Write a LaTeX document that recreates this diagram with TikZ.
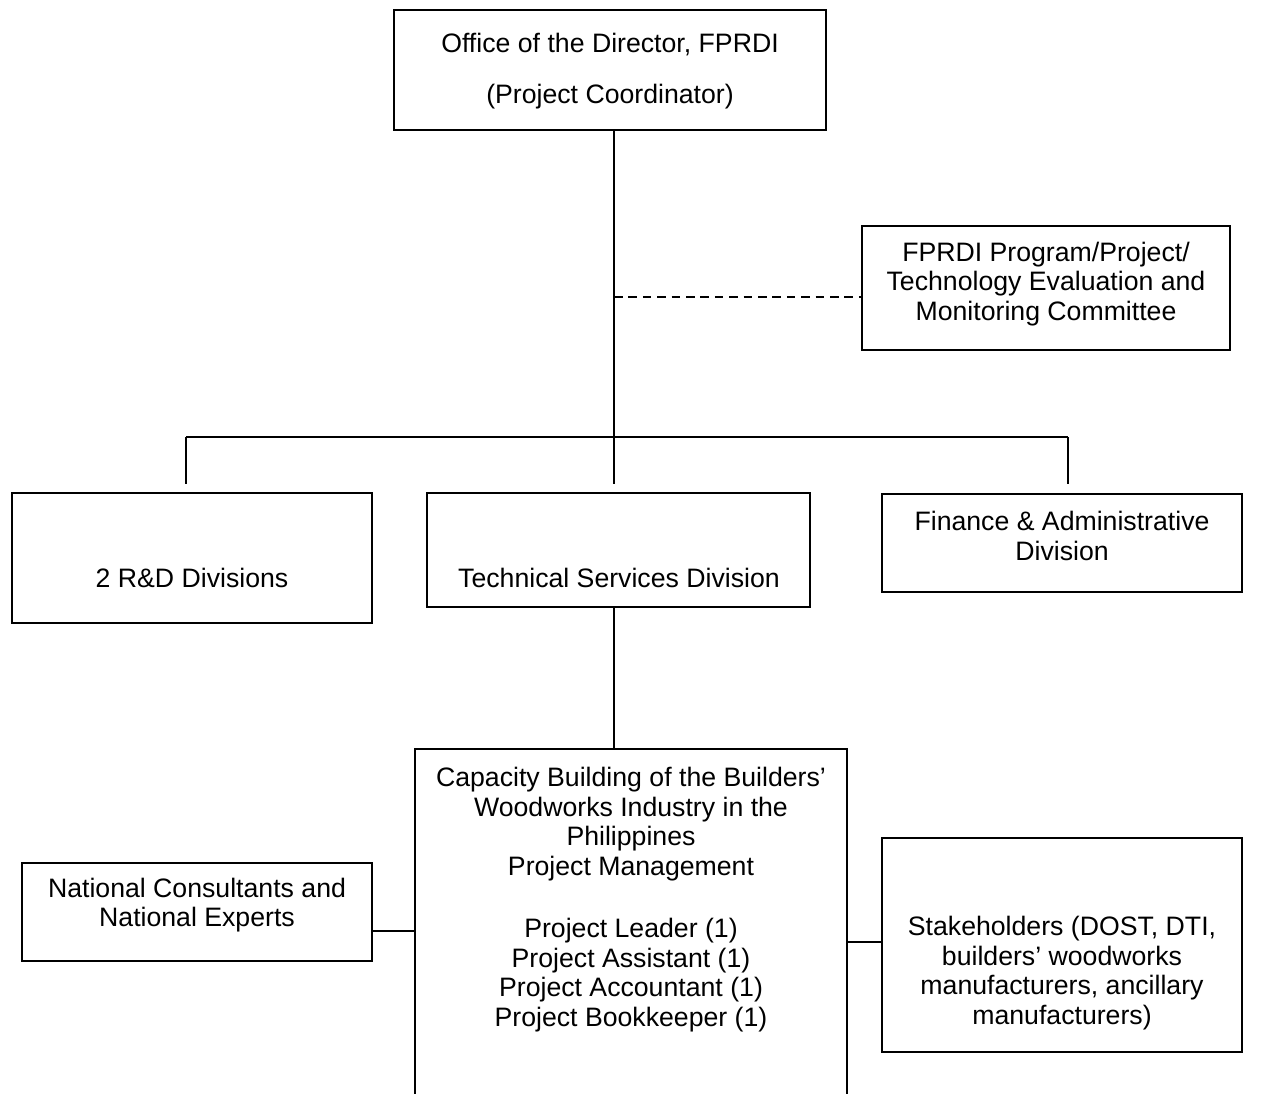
\documentclass[tikz,border=0pt]{standalone}
\usepackage{fontspec}
\setmainfont{Liberation Sans}
\begin{document}
\begin{tikzpicture}[x=0.75pt,y=-0.75pt,
  box/.style={draw,line width=1.4pt,inner sep=0pt,fill=none},
  txt/.style={align=center,inner sep=0pt,font=\fontsize{20}{22.3}\selectfont},
  conn/.style={line width=1.4pt},
  dconn/.style={line width=1.4pt,dash pattern=on 6.5pt off 4.3pt}]
\clip (0,0) rectangle (1280,1093);
\fill[white] (0,0) rectangle (1280,1093);
% boxes
\node[box,minimum width=324pt,minimum height=90pt] (top) at (610,70) {};
\node[box,minimum width=276pt,minimum height=93pt] (comm) at (1046,288) {};
\node[box,minimum width=270pt,minimum height=97.5pt] (rd) at (192,558) {};
\node[box,minimum width=287.25pt,minimum height=85.5pt] (tech) at (618.5,550) {};
\node[box,minimum width=270pt,minimum height=73.5pt] (fin) at (1062,543) {};
\node[box,minimum width=324pt,minimum height=270.75pt] (cap) at (631,929.5) {};
\node[box,minimum width=262.5pt,minimum height=73.5pt] (nc) at (197,912) {};
\node[box,minimum width=270pt,minimum height=160.5pt] (sh) at (1062,945) {};
% texts
\node[txt] (toptxt) at (610,71) {Office of the Director, FPRDI\\[16.5pt](Project Coordinator)};
\node[txt] (commtxt) at (1046,284) {FPRDI Program/Project/\\Technology Evaluation and\\Monitoring Committee};
\node[txt] (rdtxt) at (192,578) {2 R\&D Divisions};
\node[txt] (techtxt) at (619,578) {Technical Services Division};
\node[txt] (fintxt) at (1062,536) {Finance \& Administrative\\Division};
\node[txt] (captxt) at (631,899.5) {Capacity Building of the Builders'\\Woodworks Industry in the\\Philippines\\Project Management\\[24pt]Project Leader (1)\\Project Assistant (1)\\Project Accountant (1)\\Project Bookkeeper (1)};
\node[txt] (nctxt) at (197,905) {National Consultants and\\National Experts};
\node[txt] (shtxt) at (1062,973) {Stakeholders (DOST, DTI,\\builders' woodworks\\manufacturers, ancillary\\manufacturers)};
% connector coordinates
\coordinate (j) at (614,437);
\coordinate (jl) at (186,437);
\coordinate (jr) at (1068,437);
\coordinate (el) at (186,484);
\coordinate (ec) at (614,484);
\coordinate (er) at (1068,484);
\coordinate (dj) at (614,297);
% connectors
\draw[conn] (top.south -| j) -- (j);
\draw[conn] (jl) -- (jr);
\draw[conn] (jl) -- (el);
\draw[conn] (j) -- (ec);
\draw[conn] (jr) -- (er);
\draw[dconn] (dj) -- (dj -| comm.west);
\draw[conn] (tech.south -| j) -- (cap.north -| j);
\draw[conn] (nc.east |- 0,931) -- (cap.west |- 0,931);
\draw[conn] (cap.east |- 0,942) -- (sh.west |- 0,942);
\end{tikzpicture}
\end{document}
